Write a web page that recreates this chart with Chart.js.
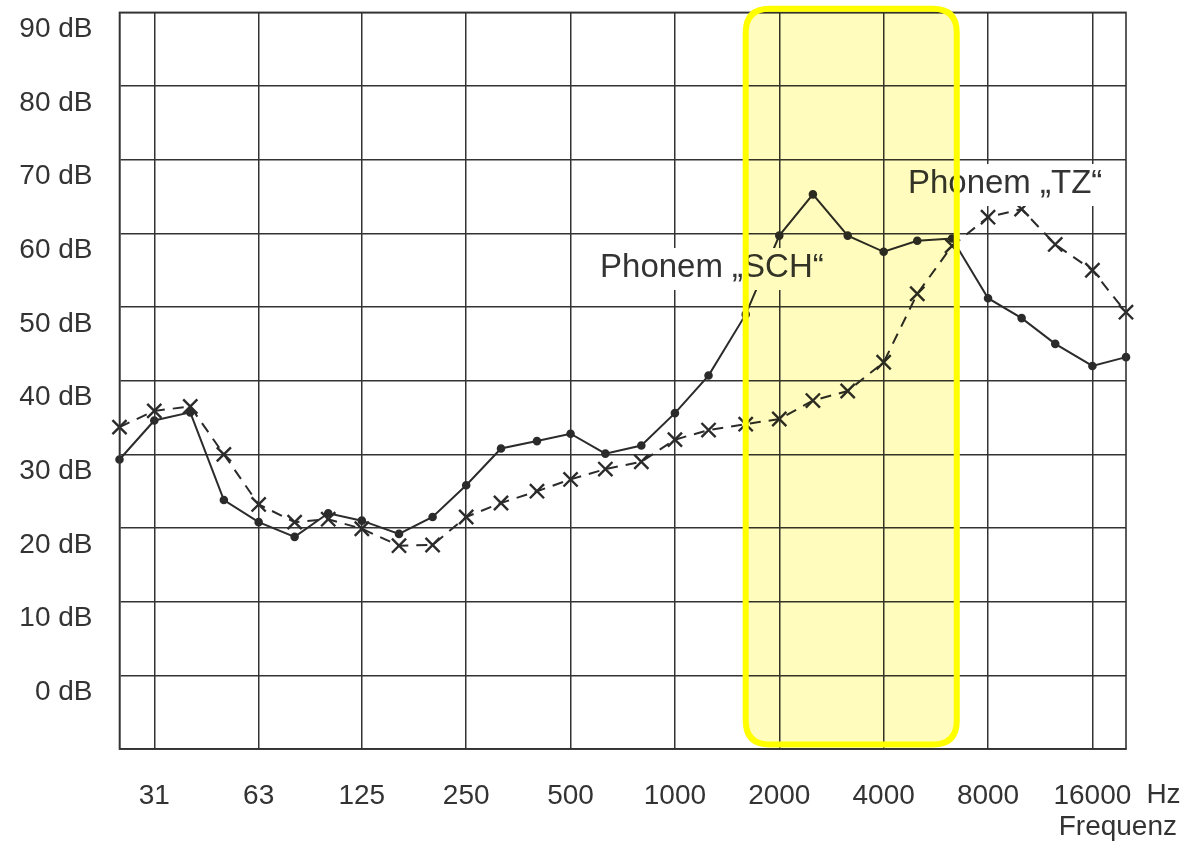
<!DOCTYPE html>
<html>
<head>
<meta charset="utf-8">
<script src="https://cdn.jsdelivr.net/npm/chart.js@4.4.1/dist/chart.umd.min.js"></script>
<style>
  html, body { margin: 0; padding: 0; background: #fff; }
  #wrap { width: 1192px; height: 842px; position: relative; }
</style>
</head>
<body>
<div id="wrap"><canvas id="chart"></canvas></div>
<script>
// third-octave bands (Hz)
const bandFreqs = [25, 31.5, 40, 50, 63, 80, 100, 125, 160, 200, 250, 315, 400, 500, 630, 800,
  1000, 1250, 1600, 2000, 2500, 3150, 4000, 5000, 6300, 8000, 10000, 12500, 16000, 20000];

// levels in dB
const schLevels = [29.3, 34.6, 35.7, 23.8, 20.8, 18.8, 22, 21, 19.2, 21.5, 25.8, 30.8, 31.8, 32.8, 30.1, 31.2,
  35.6, 40.7, 49, 59.7, 65.3, 59.7, 57.5, 59, 59.3, 51.2, 48.5, 45, 42, 43.2];
const tzLevels = [33.7, 35.9, 36.5, 30, 23.2, 20.8, 21.2, 19.9, 17.6, 17.7, 21.5, 23.4, 25, 26.6, 28, 29,
  32, 33.3, 34.1, 34.8, 37.3, 38.6, 42.5, 51.8, 58.3, 62.2, 63.3, 58.5, 55, 49.3];

// axis ticks
const freqTicks = [31.5, 63, 125, 250, 500, 1000, 2000, 4000, 8000, 16000];
const freqTickLabels = ['31', '63', '125', '250', '500', '1000', '2000', '4000', '8000', '16000'];
const dbTicks = [-10, 0, 10, 20, 30, 40, 50, 60, 70, 80, 90];
const dbTickLabels = ['', '0 dB', '10 dB', '20 dB', '30 dB', '40 dB', '50 dB', '60 dB', '70 dB', '80 dB', '90 dB'];

// highlighted band (Hz) and its vertical extent (dB)
const highlightFreq = [1600, 6500];
const highlightDb = [90.5, -9.4];

// phoneme labels: [left edge Hz, middle dB]
const schLabel = { text: 'Phonem \u201ESCH\u201C', at: [608, 55.3] };
const tzLabel = { text: 'Phonem \u201ETZ\u201C', at: [4700, 66.7] };

const ink = '#2b2b2b';
const fontFamily = '"Liberation Sans", Arial, sans-serif';

function roundRect(ctx, x, y, w, h, r) {
  ctx.beginPath();
  ctx.moveTo(x + r, y);
  ctx.lineTo(x + w - r, y);
  ctx.quadraticCurveTo(x + w, y, x + w, y + r);
  ctx.lineTo(x + w, y + h - r);
  ctx.quadraticCurveTo(x + w, y + h, x + w - r, y + h);
  ctx.lineTo(x + r, y + h);
  ctx.quadraticCurveTo(x, y + h, x, y + h - r);
  ctx.lineTo(x, y + r);
  ctx.quadraticCurveTo(x, y, x + r, y);
  ctx.closePath();
}

const decorPlugin = {
  id: 'decor',
  afterDatasetsDraw(chart) {
    const { ctx, chartArea, scales: { x, y } } = chart;
    // frame
    ctx.save();
    ctx.strokeStyle = '#333';
    ctx.lineWidth = 1.6;
    ctx.strokeRect(chartArea.left, chartArea.top, chartArea.right - chartArea.left, chartArea.bottom - chartArea.top);
    // labels with white background
    ctx.font = '33px ' + fontFamily;
    ctx.textBaseline = 'middle';
    ctx.textAlign = 'left';
    [schLabel, tzLabel].forEach((lab) => {
      const lx = x.getPixelForValue(lab.at[0]);
      const ly = y.getPixelForValue(lab.at[1]);
      const w = ctx.measureText(lab.text).width;
      ctx.fillStyle = '#fff';
      ctx.fillRect(lx - 4, ly - 20, w + 8, 42);
      ctx.fillStyle = '#333';
      ctx.fillText(lab.text, lx, ly);
    });
    ctx.restore();
  },
  afterDraw(chart) {
    const { ctx, chartArea, scales: { x, y } } = chart;
    ctx.save();
    // Hz unit and axis name
    ctx.fillStyle = '#333';
    ctx.font = '28px ' + fontFamily;
    ctx.textBaseline = 'middle';
    ctx.textAlign = 'left';
    const lastTick = x.getPixelForValue(freqTicks[freqTicks.length - 1]);
    ctx.fillText('Hz', lastTick + 54, 795);
    ctx.textAlign = 'right';
    ctx.fillText('Frequenz', chartArea.right + 51, 827);

    // yellow highlight box
    const x0 = x.getPixelForValue(highlightFreq[0]);
    const x1 = x.getPixelForValue(highlightFreq[1]);
    const y0 = y.getPixelForValue(highlightDb[0]);
    const y1 = y.getPixelForValue(highlightDb[1]);
    ctx.globalCompositeOperation = 'multiply';
    roundRect(ctx, x0, y0, x1 - x0, y1 - y0, 24);
    ctx.fillStyle = '#fffcbe';
    ctx.fill();
    ctx.globalCompositeOperation = 'source-over';
    ctx.lineWidth = 6;
    ctx.strokeStyle = '#ffff00';
    ctx.stroke();
    ctx.restore();
  }
};

const canvas = document.getElementById('chart');
new Chart(canvas, {
  type: 'line',
  data: {
    datasets: [
      {
        label: 'Phonem SCH',
        data: bandFreqs.map((f, i) => ({ x: f, y: schLevels[i] })),
        borderColor: ink,
        borderWidth: 2,
        pointStyle: 'circle',
        pointRadius: 3.3,
        pointBackgroundColor: ink,
        pointBorderColor: ink,
        tension: 0,
        clip: false
      },
      {
        label: 'Phonem TZ',
        data: bandFreqs.map((f, i) => ({ x: f, y: tzLevels[i] })),
        borderColor: ink,
        borderWidth: 2,
        borderDash: [11, 8],
        pointStyle: 'crossRot',
        pointRadius: 10,
        pointBorderWidth: 2.4,
        pointBorderColor: ink,
        tension: 0,
        clip: false
      }
    ]
  },
  options: {
    responsive: true,
    maintainAspectRatio: false,
    animation: false,
    layout: { padding: { top: 10, right: 66, bottom: 0, left: 0 } },
    plugins: {
      legend: { display: false },
      tooltip: { enabled: false }
    },
    scales: {
      x: {
        type: 'logarithmic',
        min: 25,
        max: 20000,
        afterBuildTicks: (scale) => { scale.ticks = freqTicks.map((v) => ({ value: v })); },
        afterFit: (scale) => {
          scale.height = 93;
          scale.paddingLeft = 0;
          scale.paddingRight = 0;
        },
        ticks: {
          autoSkip: false,
          maxRotation: 0,
          padding: 30,
          color: '#333',
          font: { family: fontFamily, size: 28 },
          callback: (value, index) => freqTickLabels[index]
        },
        grid: { color: '#333', lineWidth: 1.5, drawTicks: false },
        border: { display: true, color: '#333', width: 1.6 }
      },
      y: {
        min: -10,
        max: 90,
        afterBuildTicks: (scale) => { scale.ticks = dbTicks.map((v) => ({ value: v })); },
        afterFit: (scale) => {
          scale.width = 119.5;
          scale.paddingTop = 0;
          scale.paddingBottom = 0;
        },
        ticks: {
          padding: 27,
          labelOffset: 17,
          color: '#333',
          font: { family: fontFamily, size: 28 },
          callback: (value, index) => dbTickLabels[index]
        },
        grid: { color: '#333', lineWidth: 1.5, drawTicks: false },
        border: { display: true, color: '#333', width: 1.6 }
      }
    }
  },
  plugins: [decorPlugin]
});
</script>
</body>
</html>
